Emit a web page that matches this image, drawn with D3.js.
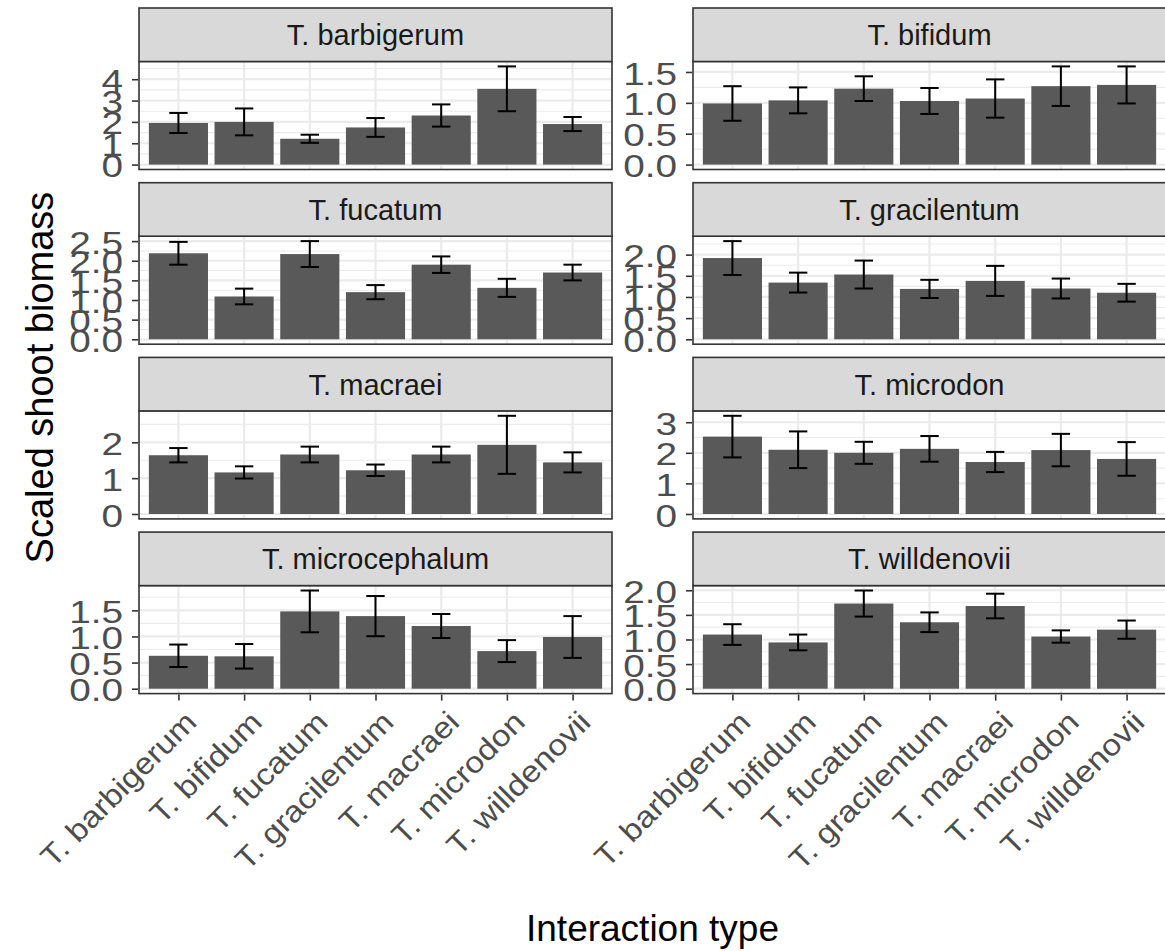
<!DOCTYPE html>
<html>
<head>
<meta charset="utf-8">
<script src="https://cdn.jsdelivr.net/npm/d3@7"></script>
<style>
  body { margin: 0; background: #fff; }
  svg { display: block; }
  text { font-family: "Liberation Sans", Arial, sans-serif; }
</style>
</head>
<body>
<svg id="chart" width="1165" height="951"></svg>
<script>
// Interaction types (x axis, shared by every facet)
const interactions = ["T. barbigerum", "T. bifidum", "T. fucatum", "T. gracilentum",
                      "T. macraei", "T. microdon", "T. willdenovii"];

// Facet order (focal species)
const facets = ["T. barbigerum", "T. bifidum", "T. fucatum", "T. gracilentum",
                "T. macraei", "T. microdon", "T. microcephalum", "T. willdenovii"];

// Mean scaled shoot biomass and standard error, one pair per facet
const barbigerumMean    = [1.95, 2.00, 1.21, 1.74, 2.30, 3.55, 1.90];
const barbigerumSE      = [0.47, 0.63, 0.19, 0.44, 0.52, 1.05, 0.33];
const bifidumMean       = [0.99, 1.04, 1.23, 1.03, 1.07, 1.27, 1.29];
const bifidumSE         = [0.28, 0.21, 0.20, 0.21, 0.31, 0.32, 0.30];
const fucatumMean       = [2.19, 1.09, 2.17, 1.20, 1.90, 1.31, 1.70];
const fucatumSE         = [0.29, 0.20, 0.33, 0.18, 0.21, 0.23, 0.20];
const gracilentumMean   = [1.92, 1.34, 1.53, 1.19, 1.38, 1.20, 1.10];
const gracilentumSE     = [0.40, 0.235, 0.33, 0.215, 0.355, 0.235, 0.21];
const macraeiMean       = [1.64, 1.16, 1.66, 1.22, 1.66, 1.93, 1.44];
const macraeiSE         = [0.20, 0.17, 0.22, 0.16, 0.22, 0.81, 0.28];
const microdonMean      = [2.53, 2.10, 2.00, 2.13, 1.70, 2.09, 1.80];
const microdonSE        = [0.68, 0.60, 0.36, 0.42, 0.33, 0.53, 0.55];
const microcephalumMean = [0.63, 0.62, 1.48, 1.39, 1.20, 0.72, 0.99];
const microcephalumSE   = [0.215, 0.235, 0.40, 0.385, 0.23, 0.21, 0.40];
const willdenoviiMean   = [1.10, 0.94, 1.73, 1.35, 1.68, 1.06, 1.20];
const willdenoviiSE     = [0.21, 0.16, 0.265, 0.20, 0.25, 0.125, 0.185];

// Y tick values for each facet (free y scales)
const barbigerumTicks    = [0, 1, 2, 3, 4];
const bifidumTicks       = [0, 0.5, 1, 1.5];
const fucatumTicks       = [0, 0.5, 1, 1.5, 2, 2.5];
const gracilentumTicks   = [0, 0.5, 1, 1.5, 2];
const macraeiTicks       = [0, 1, 2];
const microdonTicks      = [0, 1, 2, 3];
const microcephalumTicks = [0, 0.5, 1, 1.5];
const willdenoviiTicks   = [0, 0.5, 1, 1.5, 2];

const panels = [
  { mean: barbigerumMean,    se: barbigerumSE,    ticks: barbigerumTicks },
  { mean: bifidumMean,       se: bifidumSE,       ticks: bifidumTicks },
  { mean: fucatumMean,       se: fucatumSE,       ticks: fucatumTicks },
  { mean: gracilentumMean,   se: gracilentumSE,   ticks: gracilentumTicks },
  { mean: macraeiMean,       se: macraeiSE,       ticks: macraeiTicks },
  { mean: microdonMean,      se: microdonSE,      ticks: microdonTicks },
  { mean: microcephalumMean, se: microcephalumSE, ticks: microcephalumTicks },
  { mean: willdenoviiMean,   se: willdenoviiSE,   ticks: willdenoviiTicks }
].map((p, i) => Object.assign(p, { title: facets[i] }));

// Layout
const colLeft = [139, 693];
const panelW = 473;
const rowPitch = 174.7;
const firstTop = 8;
const stripH = 53.5;
const panelH = 108;

const svg = d3.select("#chart");
const grey20 = "#333333";

panels.forEach((p, i) => {
  const col = i % 2, row = Math.floor(i / 2);
  const left = colLeft[col];
  const top = firstTop + row * rowPitch;
  const pTop = top + stripH;
  const pBottom = pTop + panelH;

  const x = d3.scalePoint().domain(interactions).range([left, left + panelW]).padding(0.6);
  const step = x.step();

  const yMax = d3.max(p.mean.map((m, k) => m + p.se[k]));
  const pad = yMax * 0.05;
  const y = d3.scaleLinear().domain([-pad, yMax + pad]).range([pBottom, pTop]);

  const g = svg.append("g");

  // panel background
  g.append("rect").attr("x", left).attr("y", pTop).attr("width", panelW).attr("height", panelH)
    .attr("fill", "#fff");

  // minor horizontal grid
  const tStep = p.ticks[1] - p.ticks[0];
  const minor = [];
  for (let v = p.ticks[0] - tStep / 2; v <= y.domain()[1]; v += tStep) {
    if (v >= y.domain()[0]) minor.push(v);
  }
  g.selectAll(".minor").data(minor).join("line")
    .attr("x1", left).attr("x2", left + panelW)
    .attr("y1", d => y(d)).attr("y2", d => y(d))
    .attr("stroke", "#EBEBEB").attr("stroke-width", 1.1);

  // major grid
  g.selectAll(".majorY").data(p.ticks).join("line")
    .attr("x1", left).attr("x2", left + panelW)
    .attr("y1", d => y(d)).attr("y2", d => y(d))
    .attr("stroke", "#EBEBEB").attr("stroke-width", 2.2);
  g.selectAll(".majorX").data(interactions).join("line")
    .attr("x1", d => x(d)).attr("x2", d => x(d))
    .attr("y1", pTop).attr("y2", pBottom)
    .attr("stroke", "#EBEBEB").attr("stroke-width", 2.2);

  // bars
  g.selectAll(".bar").data(interactions).join("rect")
    .attr("x", d => x(d) - step * 0.45)
    .attr("width", step * 0.9)
    .attr("y", (d, k) => y(p.mean[k]))
    .attr("height", (d, k) => y(0) - y(p.mean[k]))
    .attr("fill", "#595959");

  // error bars
  const cap = step * 0.14;
  const eb = g.selectAll(".eb").data(interactions).join("g");
  eb.append("line")
    .attr("x1", d => x(d)).attr("x2", d => x(d))
    .attr("y1", (d, k) => y(p.mean[k] - p.se[k])).attr("y2", (d, k) => y(p.mean[k] + p.se[k]));
  eb.append("line")
    .attr("x1", d => x(d) - cap).attr("x2", d => x(d) + cap)
    .attr("y1", (d, k) => y(p.mean[k] + p.se[k])).attr("y2", (d, k) => y(p.mean[k] + p.se[k]));
  eb.append("line")
    .attr("x1", d => x(d) - cap).attr("x2", d => x(d) + cap)
    .attr("y1", (d, k) => y(p.mean[k] - p.se[k])).attr("y2", (d, k) => y(p.mean[k] - p.se[k]));
  eb.selectAll("line").attr("stroke", "#000").attr("stroke-width", 2);

  // panel border
  g.append("rect").attr("x", left).attr("y", pTop).attr("width", panelW).attr("height", panelH)
    .attr("fill", "none").attr("stroke", grey20).attr("stroke-width", 1.6);

  // strip
  g.append("rect").attr("x", left).attr("y", top).attr("width", panelW).attr("height", stripH)
    .attr("fill", "#D9D9D9").attr("stroke", grey20).attr("stroke-width", 1.6);
  g.append("text").attr("x", left + panelW / 2).attr("y", top + stripH / 2)
    .attr("dy", "0.36em").attr("text-anchor", "middle")
    .attr("font-size", 29).attr("fill", "#1A1A1A")
    .text(p.title);

  // y axis
  const fmt = tStep < 1 ? d3.format(".1f") : d3.format("d");
  const yAxis = d3.axisLeft(y).tickValues(p.ticks).tickSize(6).tickPadding(0).tickFormat(fmt);
  const ya = g.append("g").attr("transform", `translate(${left - 1},0)`).call(yAxis);
  ya.select(".domain").remove();
  ya.selectAll(".tick line").attr("stroke", grey20).attr("stroke-width", 1.6);
  ya.selectAll(".tick text")
    .attr("x", null).attr("dy", null)
    .attr("text-anchor", "end")
    .attr("dominant-baseline", "central")
    .attr("transform", "translate(-15,1) scale(1.25,1)")
    .attr("font-size", 31)
    .attr("font-family", "'Liberation Sans', Arial, sans-serif")
    .attr("fill", "#4D4D4D");

  // x axis on the bottom row only
  if (row === 3) {
    const xAxis = d3.axisBottom(x).tickSize(6).tickPadding(0);
    const xa = g.append("g").attr("transform", `translate(0,${pBottom + 1})`).call(xAxis);
    xa.select(".domain").remove();
    xa.selectAll(".tick line").attr("stroke", grey20).attr("stroke-width", 1.6);
    xa.selectAll(".tick text")
      .attr("y", null).attr("dy", null)
      .attr("text-anchor", "end")
      .attr("transform", "translate(4,14) rotate(-45) scale(1.12,1)")
      .attr("dy", "0.72em")
      .attr("font-size", 30)
      .attr("font-family", "'Liberation Sans', Arial, sans-serif")
      .attr("fill", "#4D4D4D");
  }
});

// axis titles
svg.append("text")
  .attr("transform", `translate(53,${(firstTop + 3 * rowPitch + stripH + panelH + firstTop + stripH) / 2}) rotate(-90)`)
  .attr("text-anchor", "middle")
  .attr("font-size", 38).attr("fill", "#000")
  .text("Scaled shoot biomass");

svg.append("text")
  .attr("x", (colLeft[0] + colLeft[1] + panelW) / 2)
  .attr("y", 941)
  .attr("text-anchor", "middle")
  .attr("font-size", 37).attr("fill", "#000")
  .text("Interaction type");
</script>
</body>
</html>
